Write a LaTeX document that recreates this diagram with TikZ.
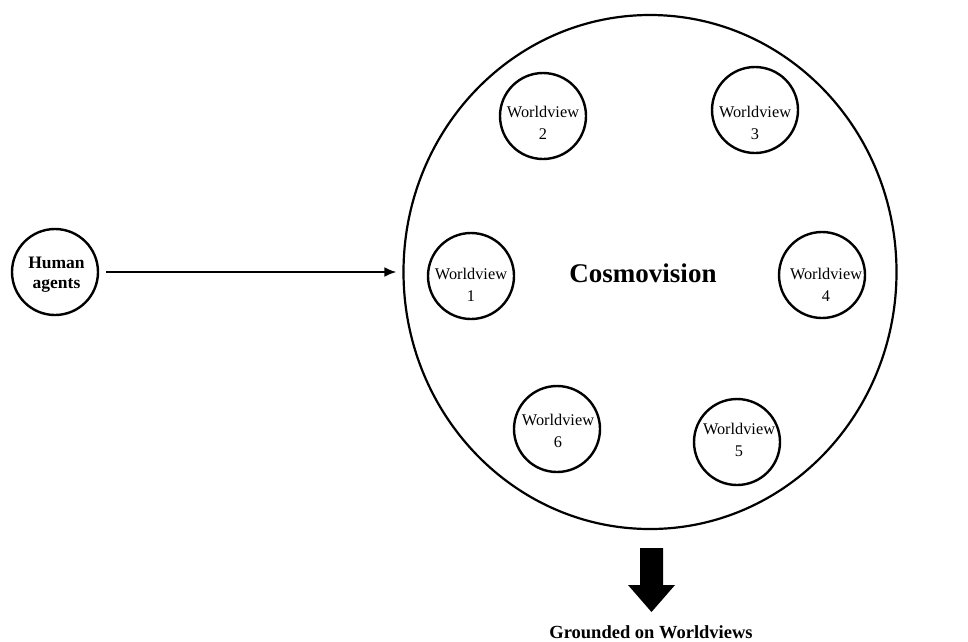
\documentclass[tikz,border=0pt]{standalone}
\usepackage{fontspec}
\setmainfont{Liberation Serif}
\usetikzlibrary{shapes.geometric,arrows.meta}
\begin{document}
\begin{tikzpicture}[x=1pt,y=-1pt,
  wv/.style={draw,circle,line width=2.4pt,minimum size=86pt,inner sep=0pt},
  wvtext/.style={align=center,font=\fontsize{16.3}{22}\selectfont,inner sep=0pt},
  bigcirc/.style={draw,ellipse,line width=2.2pt,minimum width=493pt,minimum height=514pt,inner sep=0pt},
  conn/.style={line width=2.2pt,-{Latex[length=12pt,width=10pt]}}]
\useasboundingbox (0,0) rectangle (968,641);
\fill[white] (0,0) rectangle (968,641);
% big circle
\node[bigcirc] (cosmo) at (650,272) {};
\node[font=\fontsize{27}{30}\selectfont\bfseries,inner sep=0pt] (cosmotext) at (643,273) {Cosmovision};
% worldviews
\node[wv] (w1) at (471,276) {};
\node[wvtext] (t1) at (471,285) {Worldview\\1};
\node[wv] (w2) at (543,116) {};
\node[wvtext] (t2) at (543,123) {Worldview\\2};
\node[wv] (w3) at (755,110) {};
\node[wvtext] (t3) at (755,123) {Worldview\\3};
\node[wv] (w4) at (822,275) {};
\node[wvtext] (t4) at (826,285) {Worldview\\4};
\node[wv] (w5) at (737,442) {};
\node[wvtext] (t5) at (739,439.5) {Worldview\\5};
\node[wv] (w6) at (557,429) {};
\node[wvtext] (t6) at (558,430.5) {Worldview\\6};
% human agents
\node[wv,minimum size=86pt] (human) at (55,272) {};
\node[align=center,inner sep=0pt,font=\fontsize{17.5}{20.5}\selectfont\bfseries] (htext) at (56.5,274.5) {Human\\agents};
% arrow
\draw[conn,shorten <=7pt,shorten >=6pt] (human.east) -- (cosmo.west |- human.east);
% block arrow
\fill (640,548) -- (663,548) -- (663,585) -- (675,585) -- (651.5,612) -- (628,585) -- (640,585) -- cycle;
\node[font=\fontsize{18.5}{22}\selectfont\bfseries,inner sep=0pt] (ground) at (651,632) {Grounded on Worldviews};
\end{tikzpicture}
\end{document}
